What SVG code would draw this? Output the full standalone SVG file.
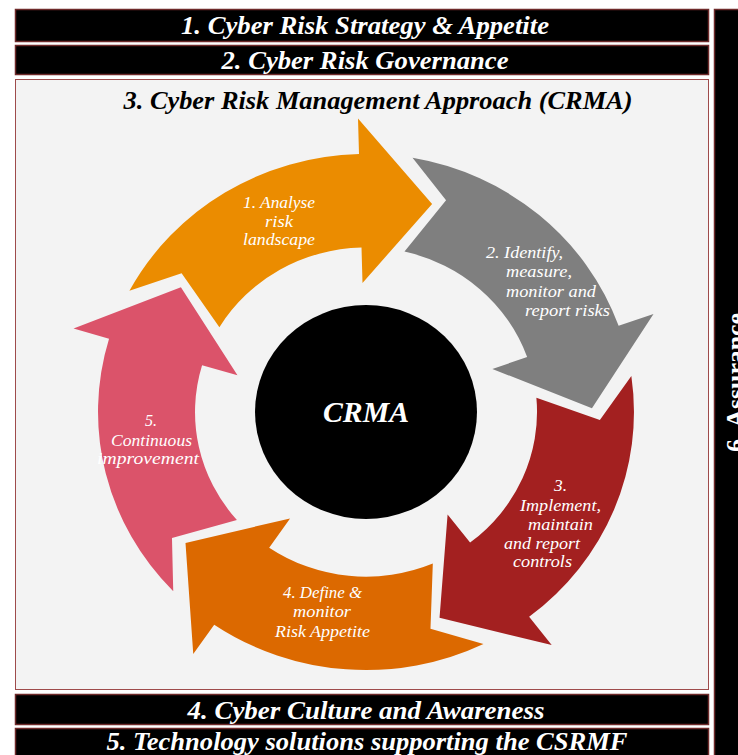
<svg xmlns="http://www.w3.org/2000/svg" xmlns:xlink="http://www.w3.org/1999/xlink" width="738" height="755" viewBox="0 0 738 755">
  <style>
    .bar { fill: #000000; stroke: #6E2A2A; stroke-width: 1.5; }
    .bar-text { font-family: "Liberation Serif", "Times New Roman", serif; font-weight: bold; font-style: italic; font-size: 25px; fill: #FFFFFF; }
    .title-text { font-family: "Liberation Serif", "Times New Roman", serif; font-weight: bold; font-style: italic; font-size: 25px; fill: #000000; }
    .side-text { font-family: "Liberation Serif", "Times New Roman", serif; font-weight: bold; font-size: 25px; fill: #FFFFFF; }
    .label { font-family: "Liberation Serif", "Times New Roman", serif; font-style: italic; font-size: 17px; fill: #FFFFFF; }
    .hub-text { font-family: "Liberation Serif", "Times New Roman", serif; font-weight: bold; font-style: italic; font-size: 29px; fill: #FFFFFF; }
  </style>
  <defs>
    <!-- one curved chevron-tailed arrow segment of the cycle, centred on the hub -->
    <path id="cycle-arrow" d="M -236.6 -125.8 A 268 268 0 0 1 -7.0 -267.9 L -8.0 -304.9 L 66.1 -216.1 L -3.5 -134.0 L -4.5 -170.9 A 171 171 0 0 0 -146.6 -88.1 L -184.4 -144.1 Z"/>
  </defs>

  <rect width="738" height="755" fill="#FFFFFF"/>

  <!-- framework layers -->
  <g id="layer-1">
    <rect class="bar" x="15.5" y="9.5" width="693" height="32"/>
    <text class="bar-text" x="365" y="34" text-anchor="middle" textLength="368" lengthAdjust="spacingAndGlyphs">1. Cyber Risk Strategy &amp; Appetite</text>
  </g>
  <g id="layer-2">
    <rect class="bar" x="15.5" y="45.5" width="693" height="29"/>
    <text class="bar-text" x="365" y="69" text-anchor="middle" textLength="287" lengthAdjust="spacingAndGlyphs">2. Cyber Risk Governance</text>
  </g>
  <g id="layer-3">
    <rect x="15.5" y="79.5" width="693" height="610" fill="#F3F3F3" stroke="#9E4B4B" stroke-width="1"/>
    <text class="title-text" x="378" y="109" text-anchor="middle" textLength="509" lengthAdjust="spacingAndGlyphs">3. Cyber Risk Management Approach (CRMA)</text>
  </g>
  <g id="layer-4">
    <rect class="bar" x="15.5" y="694.5" width="693" height="30"/>
    <text class="bar-text" x="366" y="719" text-anchor="middle" textLength="357" lengthAdjust="spacingAndGlyphs">4. Cyber Culture and Awareness</text>
  </g>
  <g id="layer-5">
    <rect class="bar" x="15.5" y="728.5" width="693" height="32"/>
    <text class="bar-text" x="367" y="750" text-anchor="middle" textLength="521" lengthAdjust="spacingAndGlyphs">5. Technology solutions supporting the CSRMF</text>
  </g>
  <g id="layer-6">
    <rect class="bar" x="714.5" y="9.5" width="30" height="752"/>
    <text class="side-text" transform="translate(744 382.5) rotate(-90)" text-anchor="middle" textLength="139" lengthAdjust="spacingAndGlyphs">6. Assurance</text>
  </g>

  <!-- cycle steps -->
  <g id="step-1">
    <use xlink:href="#cycle-arrow" href="#cycle-arrow" fill="#EB8C00" transform="translate(366 412) scale(1 0.963)"/>
    <text class="label" x="243" y="208" textLength="72" lengthAdjust="spacingAndGlyphs">1. Analyse</text>
    <text class="label" x="265" y="227" textLength="28" lengthAdjust="spacingAndGlyphs">risk</text>
    <text class="label" x="243" y="245" textLength="72" lengthAdjust="spacingAndGlyphs">landscape</text>
  </g>
  <g id="step-2">
    <use xlink:href="#cycle-arrow" href="#cycle-arrow" fill="#7F7F7F" transform="translate(366 412) scale(1 0.963) rotate(72)"/>
    <text class="label" x="486" y="258" textLength="77" lengthAdjust="spacingAndGlyphs">2. Identify,</text>
    <text class="label" x="506" y="277" textLength="66" lengthAdjust="spacingAndGlyphs">measure,</text>
    <text class="label" x="506" y="297" textLength="90" lengthAdjust="spacingAndGlyphs">monitor and</text>
    <text class="label" x="525" y="316" textLength="85" lengthAdjust="spacingAndGlyphs">report risks</text>
  </g>
  <g id="step-3">
    <use xlink:href="#cycle-arrow" href="#cycle-arrow" fill="#A32020" transform="translate(366 412) scale(1 0.963) rotate(144)"/>
    <text class="label" x="554" y="491" textLength="13" lengthAdjust="spacingAndGlyphs">3.</text>
    <text class="label" x="520" y="511" textLength="81" lengthAdjust="spacingAndGlyphs">Implement,</text>
    <text class="label" x="528" y="530" textLength="65" lengthAdjust="spacingAndGlyphs">maintain</text>
    <text class="label" x="504" y="549" textLength="76" lengthAdjust="spacingAndGlyphs">and report</text>
    <text class="label" x="513" y="567" textLength="59" lengthAdjust="spacingAndGlyphs">controls</text>
  </g>
  <g id="step-4">
    <use xlink:href="#cycle-arrow" href="#cycle-arrow" fill="#DC6900" transform="translate(366 412) scale(1 0.963) rotate(216)"/>
    <text class="label" x="283" y="598" textLength="79" lengthAdjust="spacingAndGlyphs">4. Define &amp;</text>
    <text class="label" x="293" y="617" textLength="58" lengthAdjust="spacingAndGlyphs">monitor</text>
    <text class="label" x="275" y="637" textLength="95" lengthAdjust="spacingAndGlyphs">Risk Appetite</text>
  </g>
  <g id="step-5">
    <use xlink:href="#cycle-arrow" href="#cycle-arrow" fill="#DB536A" transform="translate(366 412) scale(1 0.963) rotate(288)"/>
    <text class="label" x="145" y="426" textLength="12" lengthAdjust="spacingAndGlyphs">5.</text>
    <text class="label" x="111" y="446" textLength="81" lengthAdjust="spacingAndGlyphs">Continuous</text>
    <text class="label" x="97" y="464" textLength="102" lengthAdjust="spacingAndGlyphs">improvement</text>
  </g>

  <!-- hub -->
  <g id="hub">
    <ellipse cx="366" cy="412" rx="111" ry="107" fill="#000000"/>
    <text class="hub-text" x="366" y="422" text-anchor="middle" textLength="86" lengthAdjust="spacingAndGlyphs">CRMA</text>
  </g>

  <!-- the cycle is drawn with block arrows; no separate connector lines -->
  <g id="connectors"/>
</svg>
